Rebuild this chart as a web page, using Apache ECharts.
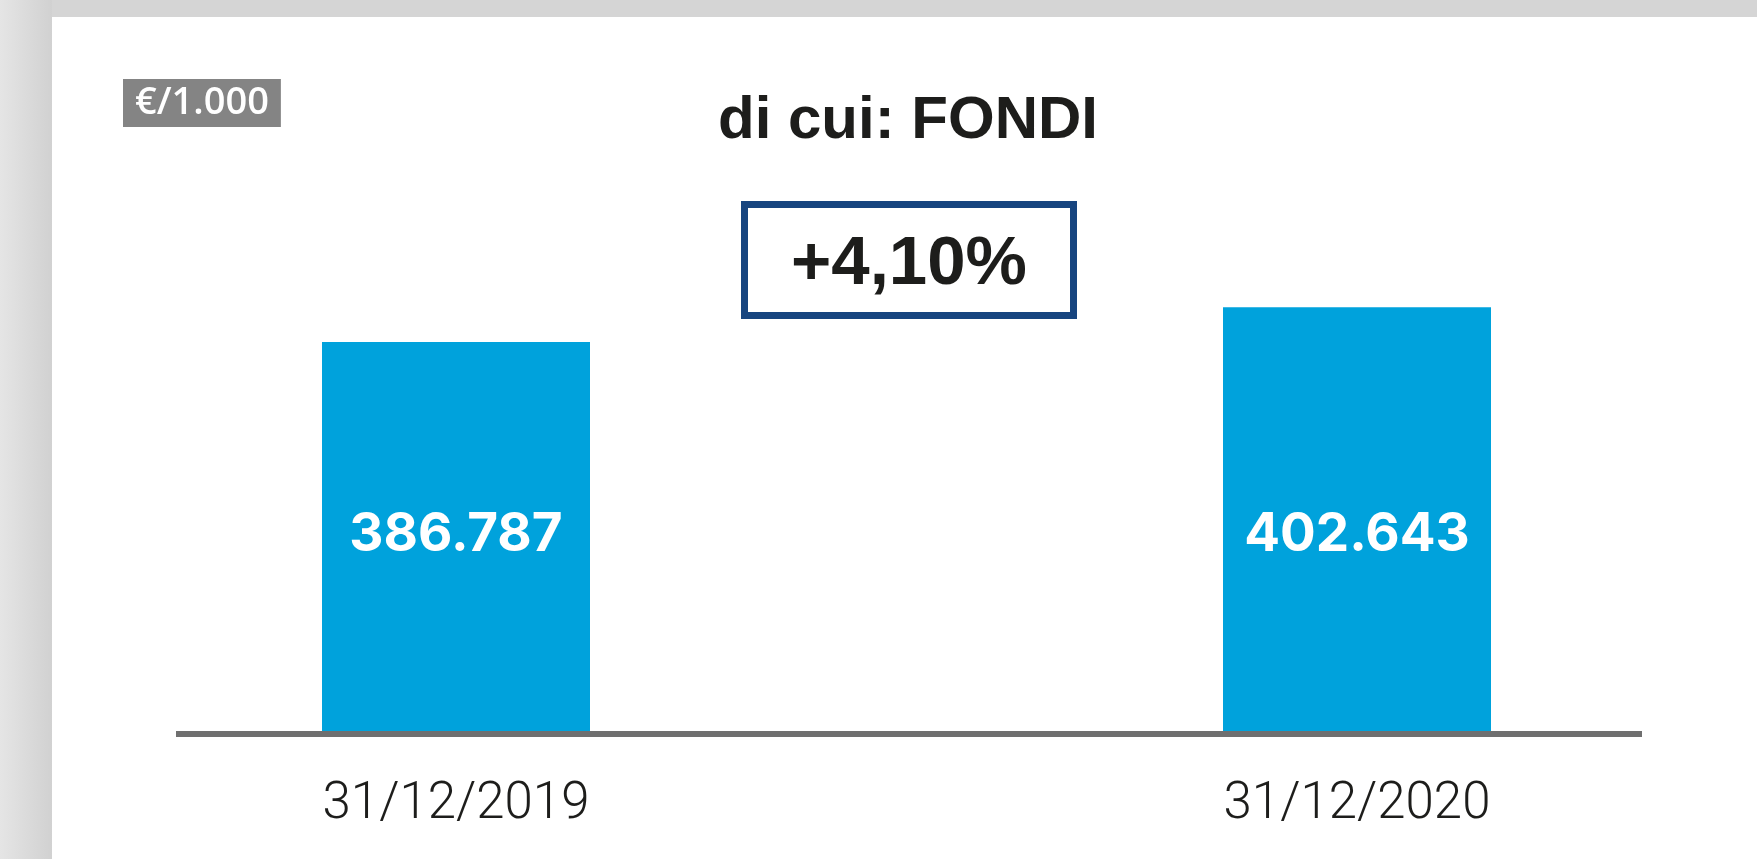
<!DOCTYPE html>
<html>
<head>
<meta charset="utf-8">
<title>di cui: FONDI</title>
<script src="https://cdn.jsdelivr.net/npm/echarts@6/dist/echarts.min.js"></script>
<style>
  html, body { margin: 0; padding: 0; width: 1757px; height: 859px; overflow: hidden; }
  body { background: linear-gradient(to right, #e5e5e5 0px, #d1d1d1 52px, #d5d5d5 52px, #d5d5d5 100%); }
  #card { position: absolute; left: 52px; top: 17px; right: 0; bottom: 0; background: #ffffff; }
  #chart { position: absolute; left: 0; top: 0; width: 1757px; height: 859px; }
</style>
</head>
<body>
<div id="card"></div>
<div id="chart"></div>
<script>
// Fund totals in thousands of euro at each year end
const categories = ['31/12/2019', '31/12/2020'];
const values = [386787, 402643];
const unitLabel = '€/1.000';
const chartTitle = 'di cui: FONDI';
const axisMin = 210000;
const axisMax = 500000;

// Italian thousands separator: 386787 -> "386.787"
function fmtIt(v) {
  return String(Math.round(v)).replace(/\B(?=(\d{3})+(?!\d))/g, '.');
}

// Year-over-year change, e.g. "+4,10%"
const change = (values[1] / values[0] - 1) * 100;
const changeText = (change >= 0 ? '+' : '') + change.toFixed(2).replace('.', ',') + '%';

const chart = echarts.init(document.getElementById('chart'), null, { renderer: 'canvas' });

chart.setOption({
  animation: false,
  backgroundColor: 'transparent',
  title: [
    {
      text: unitLabel,
      left: 123, top: 79,
      padding: [4, 12],
      backgroundColor: '#848484',
      textStyle: { color: '#ffffff', fontSize: 38, fontWeight: 600, fontFamily: 'Open Sans', lineHeight: 40 }
    },
    {
      text: chartTitle,
      left: 718, top: 91,
      padding: 0,
      textStyle: { color: '#1d1d1b', fontSize: 60, fontWeight: 'bold', fontFamily: 'Liberation Sans', lineHeight: 60 }
    },
    {
      text: changeText,
      left: 744, top: 204,
      padding: [26, 47, 17, 47],
      backgroundColor: '#ffffff',
      borderColor: '#17457f',
      borderWidth: 7,
      textStyle: { color: '#1d1d1b', fontSize: 69, fontWeight: 'bold', fontFamily: 'Liberation Sans', lineHeight: 69 }
    }
  ],
  grid: [
    // bars and date labels
    { left: 456, right: 400, top: 93, bottom: 128, containLabel: false },
    // baseline under the bars
    { left: 176, right: 115, top: 93, bottom: 125, containLabel: false }
  ],
  xAxis: [
    {
      type: 'category',
      gridIndex: 0,
      data: categories,
      boundaryGap: false,
      axisLine: { show: false },
      axisTick: { show: false },
      splitLine: { show: false },
      axisLabel: {
        margin: 48,
        color: '#1d1d1b',
        fontSize: 51,
        fontWeight: 300,
        fontFamily: 'Roboto',
        lineHeight: 52
      }
    },
    {
      type: 'category',
      gridIndex: 1,
      data: [''],
      axisLine: { show: true, lineStyle: { color: '#6f6f6f', width: 6, cap: 'butt' } },
      axisTick: { show: false },
      axisLabel: { show: false },
      splitLine: { show: false }
    }
  ],
  yAxis: [
    { type: 'value', gridIndex: 0, min: axisMin, max: axisMax, show: false, splitLine: { show: false } },
    { type: 'value', gridIndex: 1, min: 0, max: 1, show: false, splitLine: { show: false } }
  ],
  series: [
    {
      type: 'bar',
      xAxisIndex: 0,
      yAxisIndex: 0,
      data: values,
      barWidth: 268,
      itemStyle: { color: '#00a2dc' },
      label: {
        show: true,
        position: 'insideBottom',
        distance: 168,
        formatter: p => fmtIt(p.value),
        color: '#ffffff',
        fontSize: 53,
        fontWeight: 'bold',
        fontFamily: 'Inter',
        lineHeight: 56
      }
    }
  ]
});
</script>
</body>
</html>
